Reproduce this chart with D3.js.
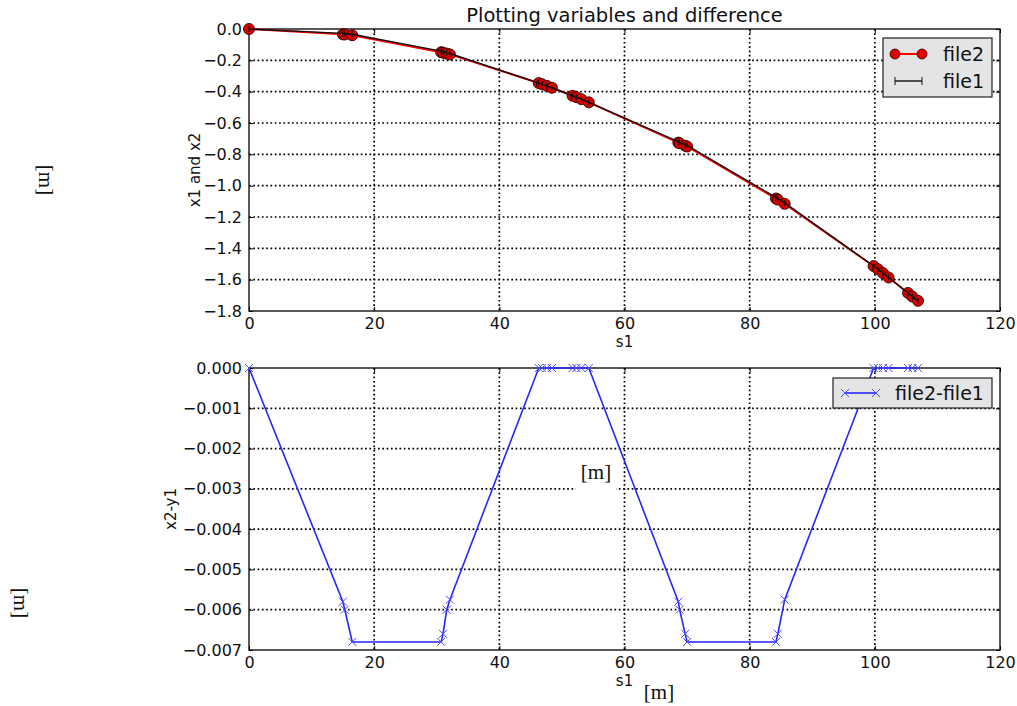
<!DOCTYPE html>
<html>
<head>
<meta charset="utf-8">
<script src="https://cdn.jsdelivr.net/npm/d3@7"></script>
<style>
  body { margin: 0; background: #fff; }
  svg { display: block; font-family: "DejaVu Sans", sans-serif; }
</style>
</head>
<body>
<svg id="chart"></svg>
<script>
// data
const s1 = [0, 15.0, 15.3, 16.5, 30.7, 31.0, 31.6, 32.1, 46.3, 46.8, 47.6, 48.4,
  51.7, 52.3, 53.1, 54.3, 68.6, 68.8, 69.7, 70.0, 84.2, 84.5, 85.6,
  99.8, 100.5, 101.3, 102.2, 105.3, 106.0, 106.9];
const file2 = [0, -0.034, -0.035, -0.040, -0.148, -0.151, -0.157, -0.162, -0.345, -0.352, -0.363, -0.375,
  -0.426, -0.435, -0.448, -0.468, -0.725, -0.729, -0.745, -0.750, -1.082, -1.089, -1.116,
  -1.513, -1.533, -1.558, -1.586, -1.685, -1.708, -1.735];
const file1 = [0, -0.0282, -0.029, -0.0332, -0.1412, -0.1444, -0.151, -0.15625, -0.345, -0.352, -0.363, -0.375,
  -0.426, -0.435, -0.448, -0.468, -0.7192, -0.723, -0.7384, -0.7432, -1.0752, -1.0824, -1.11025,
  -1.513, -1.533, -1.558, -1.586, -1.685, -1.708, -1.735];
const diff = [0, -0.0058, -0.0060, -0.0068, -0.0068, -0.0066, -0.0060, -0.00575, 0, 0, 0, 0,
  0, 0, 0, 0, -0.0058, -0.0060, -0.0066, -0.0068, -0.0068, -0.0066, -0.00575,
  0, 0, 0, 0, 0, 0, 0];

const xTicks = [0, 20, 40, 60, 80, 100, 120];
const topTicks = [0, -0.2, -0.4, -0.6, -0.8, -1.0, -1.2, -1.4, -1.6, -1.8];
const botTicks = [0, -0.001, -0.002, -0.003, -0.004, -0.005, -0.006, -0.007];

const width = 1017, height = 706;
const left = 249, right = 1000;

const svg = d3.select("#chart").attr("width", width).attr("height", height);

const x = d3.scaleLinear().domain([0, 120]).range([left, right]);
const yTop = d3.scaleLinear().domain([-1.8, 0]).range([311, 29]);
const yBot = d3.scaleLinear().domain([-0.007, 0]).range([650, 368]);

// one panel: grid, axes on all four sides, labels
function panel(y, yTicks, fmt, ylabel, ylabelX) {
  const [y0, y1] = y.range();
  const g = svg.append("g");

  g.append("g").selectAll("line").data(xTicks.slice(1, -1)).join("line")
    .attr("x1", d => x(d)).attr("x2", d => x(d)).attr("y1", y1).attr("y2", y0)
    .attr("stroke", "#000").attr("stroke-width", 1.7).attr("stroke-dasharray", "1.7,2.6");
  g.append("g").selectAll("line").data(yTicks.slice(1, -1)).join("line")
    .attr("x1", left).attr("x2", right).attr("y1", d => y(d)).attr("y2", d => y(d))
    .attr("stroke", "#000").attr("stroke-width", 1.7).attr("stroke-dasharray", "1.7,2.6");

  const ax = (axis, tx, ty, labels) => {
    const a = g.append("g").attr("transform", `translate(${tx},${ty})`).call(axis);
    a.select(".domain").remove();
    a.selectAll("line").attr("stroke", "#000");
    a.selectAll("text").attr("font-size", 16).attr("fill", "#111")
      .attr("font-family", "DejaVu Sans");
    if (!labels) a.selectAll("text").remove();
    return a;
  };
  ax(d3.axisBottom(x).tickValues(xTicks).tickSize(-4).tickPadding(7).tickFormat(d3.format("d")), 0, y0, true);
  ax(d3.axisTop(x).tickValues(xTicks).tickSize(-4), 0, y1, false);
  ax(d3.axisLeft(y).tickValues(yTicks).tickSize(-4).tickPadding(7).tickFormat(d3.format(fmt)), left, 0, true);
  ax(d3.axisRight(y).tickValues(yTicks).tickSize(-4), right, 0, false);

  g.append("rect").attr("x", left).attr("y", y1).attr("width", right - left).attr("height", y0 - y1)
    .attr("fill", "none").attr("stroke", "#000").attr("stroke-width", 1.3);

  g.append("text").attr("transform", `translate(${ylabelX},${(y0 + y1) / 2}) rotate(-90)`)
    .attr("text-anchor", "middle").attr("font-size", 15).attr("fill", "#111").text(ylabel);
  g.append("text").attr("x", x(60)).attr("y", y0 + 36).attr("text-anchor", "middle")
    .attr("font-size", 15).attr("fill", "#111").text("s1");
}

panel(yTop, topTicks, ".1f", "x1 and x2", 200);
panel(yBot, botTicks, ".3f", "x2-y1", 176);

svg.append("text").attr("x", x(60)).attr("y", 22).attr("text-anchor", "middle")
  .attr("font-size", 19.5).attr("fill", "#111").text("Plotting variables and difference");

// top: file2 (red, circles) under file1 (black, ticks)
const topLine = (vals) => d3.line().x((d, i) => x(s1[i])).y(d => yTop(d))(vals);
svg.append("path").attr("d", topLine(file2)).attr("fill", "none")
  .attr("stroke", "#ff0000").attr("stroke-width", 2);
svg.append("g").selectAll("circle").data(file2).join("circle")
  .attr("cx", (d, i) => x(s1[i])).attr("cy", d => yTop(d)).attr("r", 5.5)
  .attr("fill", "#d80000").attr("stroke", "#300").attr("stroke-width", 0.9);
svg.append("path").attr("d", topLine(file1)).attr("fill", "none")
  .attr("stroke", "#111").attr("stroke-width", 1.4);
svg.append("g").selectAll("line").data(file1).join("line")
  .attr("x1", (d, i) => x(s1[i])).attr("x2", (d, i) => x(s1[i]))
  .attr("y1", d => yTop(d) - 3).attr("y2", d => yTop(d) + 3)
  .attr("stroke", "#111").attr("stroke-width", 1);

// bottom: difference
svg.append("path").attr("d", d3.line().x((d, i) => x(s1[i])).y(d => yBot(d))(diff))
  .attr("fill", "none").attr("stroke", "#2626ff").attr("stroke-width", 1.6);
const xMark = (sel, r) => sel.attr("d", `M${-r},${-r}L${r},${r}M${-r},${r}L${r},${-r}`)
  .attr("fill", "none").attr("stroke", "#4a4aff").attr("stroke-width", 1);
xMark(svg.append("g").selectAll("path").data(diff).join("path")
  .attr("transform", (d, i) => `translate(${x(s1[i])},${yBot(d)})`), 4);

// legends
const lg1 = svg.append("g");
lg1.append("rect").attr("x", 883).attr("y", 38).attr("width", 109).attr("height", 59)
  .attr("fill", "#e4e4e4").attr("stroke", "#222").attr("stroke-width", 1.2);
lg1.append("line").attr("x1", 895).attr("x2", 922).attr("y1", 54).attr("y2", 54)
  .attr("stroke", "#ff0000").attr("stroke-width", 2);
lg1.selectAll("circle").data([895, 922]).join("circle").attr("cx", d => d).attr("cy", 54).attr("r", 5)
  .attr("fill", "#e00000").attr("stroke", "#300").attr("stroke-width", 0.8);
lg1.append("line").attr("x1", 895).attr("x2", 922).attr("y1", 81).attr("y2", 81)
  .attr("stroke", "#111").attr("stroke-width", 1.4);
lg1.selectAll(".tk").data([895, 922]).join("line").attr("class", "tk")
  .attr("x1", d => d).attr("x2", d => d).attr("y1", 77).attr("y2", 85)
  .attr("stroke", "#111").attr("stroke-width", 1);
lg1.append("text").attr("x", 943).attr("y", 61).attr("font-size", 19).attr("fill", "#111").text("file2");
lg1.append("text").attr("x", 943).attr("y", 88).attr("font-size", 19).attr("fill", "#111").text("file1");

const lg2 = svg.append("g");
lg2.append("rect").attr("x", 833).attr("y", 378).attr("width", 159).attr("height", 30)
  .attr("fill", "#e4e4e4").attr("stroke", "#222").attr("stroke-width", 1.2);
lg2.append("line").attr("x1", 845).attr("x2", 876).attr("y1", 393).attr("y2", 393)
  .attr("stroke", "#2626ff").attr("stroke-width", 1.6);
xMark(lg2.selectAll("path").data([845, 876]).join("path")
  .attr("transform", d => `translate(${d},393)`), 4);
lg2.append("text").attr("x", 895).attr("y", 400).attr("font-size", 19).attr("fill", "#111").text("file2-file1");

// unit labels
const unit = (tx, ty, rot) => svg.append("text")
  .attr("transform", `translate(${tx},${ty}) rotate(${rot})`)
  .attr("text-anchor", "middle").attr("dominant-baseline", "central")
  .attr("font-family", "Liberation Serif, serif").attr("font-size", 21).attr("fill", "#111").text("[m]");
unit(46, 180, 90);
unit(21, 603, 90);
// white patch behind the middle [m]
svg.append("rect").attr("x", 576).attr("y", 450).attr("width", 40).attr("height", 45).attr("fill", "#fff");
unit(596, 472, 0);
unit(659, 692, 0);
</script>
</body>
</html>
